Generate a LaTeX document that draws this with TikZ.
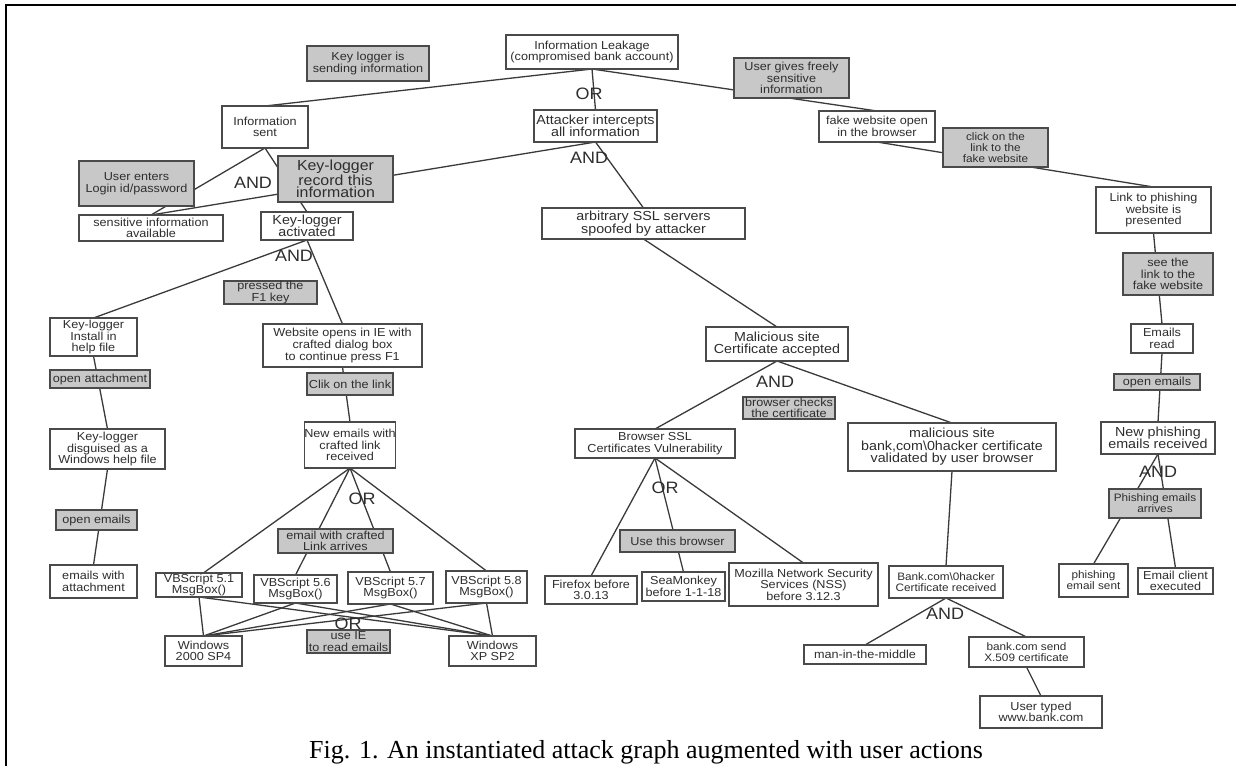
\documentclass[tikz,border=0pt]{standalone}
\usepackage{fontspec}
\setmainfont{Liberation Sans}
\newfontfamily\df[FakeStretch=1.09]{Liberation Sans}
\newfontfamily\capfont{Liberation Serif}
\usetikzlibrary{backgrounds}
\definecolor{bc}{HTML}{4A4A4A}
\definecolor{gf}{HTML}{C8C8C8}
\definecolor{tc}{HTML}{2E2E2E}
\definecolor{lc}{HTML}{3A3A3A}
\newcommand\fN{\df\fontsize{11.6}{11.6}\selectfont}
\newcommand\fL{\df\fontsize{13.1}{12.6}\selectfont}
\newcommand\fX{\df\fontsize{14.6}{12.6}\selectfont}
\newcommand\fS{\df\fontsize{10.8}{11.2}\selectfont}
\tikzset{
 bx/.style={draw=bc, line width=1.4pt, fill=white, inner sep=0pt, outer sep=0pt, align=center, text=tc, font=\fN},
 gbx/.style={bx, fill=gf},
 lbl/.style={inner sep=0pt, text=tc, font=\df\fontsize{16.5}{16}\selectfont},
 ln/.style={draw=lc, line width=1.3pt},
 sz/.style 2 args={minimum width=#1, minimum height=#2},
}
\begin{document}
\begin{tikzpicture}[x=1pt,y=-1pt]
\useasboundingbox (0,0) rectangle (1236,766);
\draw[line width=2.5pt, black] (6,766) -- (6,5) -- (1236,5);

% top level
\node[bx, sz={172}{34}] (leak) at (592,52) {Information Leakage\\(compromised bank account)};
\node[gbx, sz={122}{35}] (klsend) at (368,63.5) {Key logger is\\sending information};
\node[gbx, sz={115}{40}] (ugives) at (791.5,78) {User gives freely\\sensitive\\information};
\node[lbl] (or1) at (589,94) {OR};
\node[bx, sz={86}{42}] (isent) at (265,127) {Information\\sent};
\node[bx, sz={123}{32}, font=\fL] (attack) at (595.5,126) {Attacker intercepts\\all information};
\node[lbl] (and2) at (589,158) {AND};
\node[bx, sz={116}{31}] (fakeweb) at (877,126.5) {fake website open\\in the browser};
\node[gbx, sz={105}{39}, font=\fS] (clickfake) at (995.5,147.5) {click on the\\link to the\\fake website};

% left upper
\node[gbx, sz={115}{45}] (userenter) at (136.5,183.5) {User enters\\Login id/password};
\node[gbx, sz={115}{46}, font=\fX] (klrecord) at (335.5,179) {Key-logger\\record this\\information};
\node[lbl] (and1) at (253,183) {AND};
\node[bx, sz={144}{26}] (sensinfo) at (151,228) {sensitive information\\available};
\node[bx, sz={92}{28}, font=\fL] (klact) at (307,226) {Key-logger\\activated};
\node[lbl] (and5) at (294,256) {AND};
\node[gbx, sz={93}{23}] (pressedf1) at (270.5,292.5) {pressed the\\F1 key};

% left column
\node[bx, sz={87}{38}] (klinstall) at (93.5,337) {Key-logger\\Install in\\help file};
\node[gbx, sz={100}{18}] (openattach) at (100,379) {open attachment};
\node[bx, sz={115}{40}] (kldisguise) at (107.5,449) {Key-logger\\disguised as a\\Windows help file};
\node[gbx, sz={81}{20}] (openemL) at (96.5,520) {open emails};
\node[bx, sz={87}{33}] (emailsattach) at (93.5,581.5) {emails with\\attachment};

% website branch
\node[bx, sz={159}{43}] (webopens) at (342.5,345.5) {Website opens in IE with\\crafted dialog box\\to continue press F1};
\node[gbx, sz={86}{22}] (cliklink) at (350,384) {Clik on the link};
\node[bx, sz={86}{46}] (newemails) at (350,445) {New emails with\\crafted link\\received};
\node[lbl] (or3) at (362,499) {OR};
\node[gbx, sz={115}{24}] (emailcrafted) at (335.5,541) {email with crafted\\Link arrives};
\node[bx, sz={86}{24}] (vb51) at (199,585) {VBScript 5.1\\MsgBox()};
\node[bx, sz={83}{28}] (vb56) at (295.5,589) {VBScript 5.6\\MsgBox()};
\node[bx, sz={85}{32}] (vb57) at (390.5,588) {VBScript 5.7\\MsgBox()};
\node[bx, sz={81}{32}] (vb58) at (486.5,587) {VBScript 5.8\\MsgBox()};
\node[bx, sz={77}{30}] (win2000) at (203.5,651) {Windows\\2000 SP4};
\node[bx, sz={87}{30}] (winxp) at (492.5,651) {Windows\\XP SP2};
\node[gbx, sz={83}{23}] (useie) at (348.5,641.5) {use IE\\to read emails};
\node[lbl, anchor=south] (or4) at (348,629.5) {OR};

% SSL branch
\node[bx, sz={203}{31}, font=\fL] (sslspoof) at (643.5,223.5) {arbitrary SSL servers\\spoofed by attacker};
\node[bx, sz={142}{34}, font=\fL] (malsite) at (777,344) {Malicious site\\Certificate accepted};
\node[lbl] (and4) at (775,382) {AND};
\node[gbx, sz={92}{22}] (browsercheck) at (789,408) {browser checks\\the certificate};
\node[bx, sz={160}{29}] (browserssl) at (655,443.5) {Browser SSL\\Certificates Vulnerability};
\node[lbl] (or2) at (665,488) {OR};
\node[gbx, sz={115}{22}] (usebrowser) at (677.5,541) {Use this browser};
\node[bx, sz={92}{28}] (firefox) at (591,590) {Firefox before\\3.0.13};
\node[bx, sz={83}{29}] (seamonkey) at (683.5,586.5) {SeaMonkey\\before 1-1-18};
\node[bx, sz={149}{43}] (mozilla) at (803.5,584.5) {Mozilla Network Security\\Services (NSS)\\before 3.12.3};
\node[bx, sz={208}{48}, font=\fL] (malbank) at (952,447) {malicious site\\bank,com\textbackslash 0hacker certificate\\validated by user browser};
\node[bx, sz={114}{32}, font=\fS] (bankrecv) at (946,582) {Bank.com\textbackslash 0hacker\\Certificate received};
\node[lbl] (and6) at (945,614) {AND};
\node[bx, sz={122}{19}] (mitm) at (865,654.5) {man-in-the-middle};
\node[bx, sz={115}{30}, font=\fS] (banksend) at (1026.5,652) {bank.com send\\X.509 certificate};
\node[bx, sz={122}{32}] (usertyped) at (1041,712) {User typed\\www.bank.com};

% phishing branch
\node[bx, sz={115}{46}] (linkphish) at (1153.5,210) {Link to phishing\\website is\\presented};
\node[gbx, sz={90}{42}] (seelink) at (1168,274) {see the\\link to the\\fake website};
\node[bx, sz={62}{29}] (emailsread) at (1162,338.5) {Emails\\read};
\node[gbx, sz={86}{16}] (openemR) at (1157,382) {open emails};
\node[bx, sz={114}{32}, font=\fL] (newphish) at (1158,438) {New phishing\\emails received};
\node[lbl] (and3) at (1158,472) {AND};
\node[gbx, sz={92}{29}, font=\fS] (phisharr) at (1155,503.5) {Phishing emails\\arrives};
\node[bx, sz={69}{33}, font=\fS] (phishsent) at (1093.5,580.5) {phishing\\email sent};
\node[bx, sz={75}{26}] (emailclient) at (1175.5,581) {Email client\\executed};

% caption
\node[font=\capfont\fontsize{26}{30}\selectfont, anchor=base, inner sep=0pt] (cap) at (646,758) {Fig. 1. An instantiated attack graph augmented with user actions};

\begin{pgfonlayer}{background}
\draw[ln] (leak.south) -- (isent.north);
\draw[ln] (leak.south) -- (attack.north);
\draw[ln] (leak.south) -- (fakeweb.north);
\draw[ln] (isent.south) -- (klact.north);
\draw[ln] (isent.south) -- (sensinfo.north);
\draw[ln] (attack.south) -- (sensinfo.north);
\draw[ln] (attack.south) -- (sslspoof.north);
\draw[ln] (sslspoof.south) -- (malsite.north);
\draw[ln] (malsite.south) -- (browserssl.north);
\draw[ln] (malsite.south) -- (malbank.north);
\draw[ln] (malbank.south) -- (bankrecv.north);
\draw[ln] (bankrecv.south) -- (mitm.north);
\draw[ln] (bankrecv.south) -- (banksend.north);
\draw[ln] (banksend.south) -- (usertyped.north);
\draw[ln] (browserssl.south) -- (firefox.north);
\draw[ln] (browserssl.south) -- (seamonkey.north);
\draw[ln] (browserssl.south) -- (mozilla.north);
\draw[ln] (fakeweb.south) -- (linkphish.north);
\draw[ln] (linkphish.south) -- (emailsread.north);
\draw[ln] (emailsread.south) -- (newphish.north);
\draw[ln] (newphish.south) -- (phishsent.north);
\draw[ln] (newphish.south) -- (emailclient.north);
\draw[ln] (klact.south) -- (klinstall.north);
\draw[ln] (klact.south) -- (webopens.north);
\draw[ln] (klinstall.south) -- (kldisguise.north);
\draw[ln] (kldisguise.south) -- (emailsattach.north);
\draw[ln] (webopens.south) -- (newemails.north);
\draw[ln] (newemails.south) -- (vb51.70);
\draw[ln] (newemails.south) -- (vb56.north);
\draw[ln] (newemails.south) -- (vb57.north);
\draw[ln] (newemails.south) -- (vb58.north);
\foreach \v in {vb51,vb56,vb57,vb58}{
  \draw[ln] (\v.south) -- (win2000.north);
  \draw[ln] (\v.south) -- (winxp.north);
}
\end{pgfonlayer}
\end{tikzpicture}
\end{document}
